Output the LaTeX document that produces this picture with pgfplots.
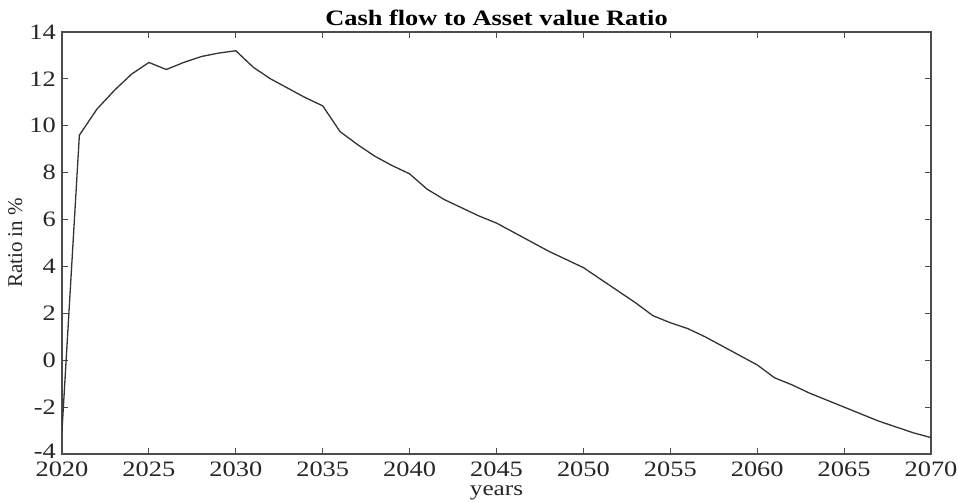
\documentclass[border=0pt]{standalone}
\usepackage{fontspec}
\setmainfont[FakeStretch=1.2]{Liberation Serif}
\newfontfamily\plainserif{Liberation Serif}
\usepackage{pgfplots}
\pgfplotsset{compat=1.18}
\begin{document}
\begin{tikzpicture}
\begin{axis}[
  scale only axis, width=869pt, height=422pt,
  xmin=2020, xmax=2070, ymin=-4, ymax=14,
  xtick={2020,2025,...,2070}, ytick={-4,-2,...,14},
  yticklabels={\raisebox{5pt}{-4},-2,0,2,4,6,8,10,12,14},
  /pgf/number format/assume math mode=true,
  /pgf/number format/1000 sep={},
  tick align=inside, major tick length=6pt,
  axis line style={line width=1.2pt, black!70},
  tick style={line width=1pt, black!70},
  ticklabel style={font=\fontsize{22}{24}\selectfont, text=black!85, inner sep=1pt},
  xticklabel style={yshift=-7pt},
  yticklabel style={xshift=-5pt},
  title={\textbf{Cash flow to Asset value Ratio}},
  title style={font=\fontsize{22}{24}\selectfont, at={(0.5,1)}, anchor=south, yshift=-3pt},
  xlabel={years},
  ylabel={Ratio in \%},
  xlabel style={font=\fontsize{21}{24}\selectfont, text=black!85, at={(axis description cs:0.5,0)}, anchor=base, yshift=-42pt},
  ylabel style={font=\plainserif\fontsize{21}{24}\selectfont, text=black!85, at={(axis description cs:0,0.5)}, anchor=south, yshift=36pt},
]
\addplot[black!80, line width=1.3pt] coordinates {
(2020,-3.0) (2021,9.6) (2022,10.7) (2023,11.5) (2024,12.2) (2025,12.7)
(2026,12.4) (2027,12.7) (2028,12.95) (2029,13.1) (2030,13.2)
(2031,12.5) (2032,12.0) (2033,11.6) (2034,11.2) (2035,10.85)
(2036,9.75) (2037,9.2) (2038,8.7) (2039,8.3) (2040,7.95)
(2041,7.3) (2042,6.85) (2043,6.5) (2044,6.15) (2045,5.85)
(2046,5.45) (2047,5.05) (2048,4.65) (2049,4.3) (2050,3.95)
(2051,3.45) (2052,2.95) (2053,2.45) (2054,1.9) (2055,1.6)
(2056,1.35) (2057,1.0) (2058,0.6) (2059,0.2) (2060,-0.2)
(2061,-0.75) (2062,-1.05) (2063,-1.4) (2064,-1.7) (2065,-2.0)
(2066,-2.3) (2067,-2.6) (2068,-2.85) (2069,-3.1) (2070,-3.3)
};
\end{axis}
\pgfresetboundingbox
\path ([shift={(-62pt,-48pt)}]current axis.south west) rectangle ([shift={(27pt,32pt)}]current axis.north east);
\end{tikzpicture}
\end{document}
